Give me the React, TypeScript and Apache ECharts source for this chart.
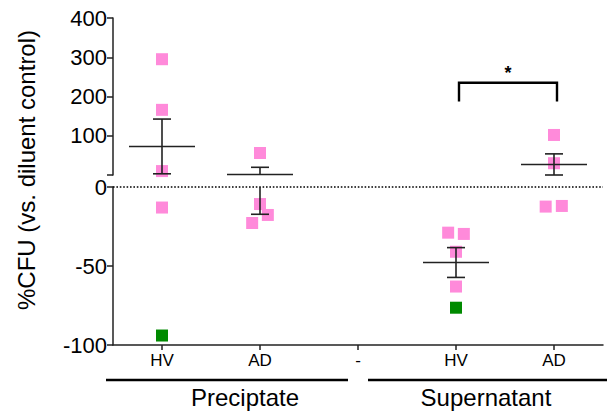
import React, { useEffect, useRef } from "react";
import * as echarts from "echarts";

// ---------- data ----------
const categories = ["HV", "AD", "-", "HV", "AD"];
const groupNames = ["Preciptate", "Supernatant"];
const yTitle = "%CFU (vs. diluent control)";

// per-sample values at each x position (index matches categories)
const pinkValues: number[][] = [
  [295, 166, 10, -13],
  [56, -10.8, -17.7, -22.8],
  [],
  [-28.9, -29.7, -41, -63],
  [102, 30, -12.4, -12],
];
// horizontal jitter of each sample, in category units
const pinkJitter: number[][] = [
  [0, 0, 0, 0],
  [0, 0, 0.08, -0.08],
  [],
  [-0.08, 0.08, 0, 0],
  [0, 0, -0.085, 0.08],
];
const greenValues: number[][] = [[-94], [], [], [-76.4], []];

const upperTicks = [0, 100, 200, 300, 400];
const lowerTicks = [-100, -50, 0];
const significance = [{ from: 3, to: 4, label: "*" }];

// ---------- styles ----------
const FONT = "'Liberation Sans', Arial, Helvetica, sans-serif";
const PINK = "#FF8ADA";
const GREEN = "#008A00";
const INK = "#222222";

function stats(vals: number[]) {
  const n = vals.length;
  const mean = vals.reduce((a, b) => a + b, 0) / n;
  const sd = Math.sqrt(vals.reduce((a, b) => a + (b - mean) * (b - mean), 0) / (n - 1));
  const sem = sd / Math.sqrt(n);
  return { mean, lo: mean - sem, hi: mean + sem };
}

export default function App() {
  const ref = useRef<HTMLDivElement>(null);

  useEffect(() => {
    if (!ref.current) return;
    const chart = echarts.init(ref.current, undefined, { renderer: "svg" });

    const upperMax = upperTicks[upperTicks.length - 1];
    const lowerMin = lowerTicks[0];
    const TOL = -2; // values just below zero still drawn at the upper segment's base

    const pinkUp: number[][] = [];
    const pinkLow: number[][] = [];
    const greenUp: number[][] = [];
    const greenLow: number[][] = [];
    const errData: number[][] = [];
    categories.forEach((_, i) => {
      pinkValues[i].forEach((v, k) => {
        const pt = [i + (pinkJitter[i][k] || 0), v];
        (v >= 0 ? pinkUp : pinkLow).push(pt);
      });
      greenValues[i].forEach((v) => {
        (v >= 0 ? greenUp : greenLow).push([i, v]);
      });
      const all = [...pinkValues[i], ...greenValues[i]];
      if (all.length > 1) {
        const s = stats(all);
        errData.push([i, s.mean, s.lo, s.hi]);
      }
    });

    const seg = (x1: number, y1: number, x2: number, y2: number, w = 1.6) => ({
      type: "line",
      shape: { x1, y1, x2, y2 },
      style: { stroke: INK, lineWidth: w },
    });

    const makeErr = (upper: boolean) => (params: any, api: any) => {
      const x = api.value(0);
      const mean = api.value(1);
      const lo = api.value(2);
      const hi = api.value(3);
      const inSeg = (v: number) => (upper ? v >= TOL : v < TOL);
      const clamp = (v: number) =>
        upper ? Math.max(0, Math.min(upperMax, v)) : Math.max(lowerMin, Math.min(0, v));
      const P = (v: number) => api.coord([x, clamp(v)]);
      const children: any[] = [];
      const MW = 33;
      const CW = 9;
      if (inSeg(mean)) {
        const p = P(mean);
        children.push(seg(p[0] - MW, p[1], p[0] + MW, p[1]));
      }
      const vertical = upper ? hi >= TOL : lo < TOL;
      if (vertical) {
        const a = P(lo);
        const b = P(hi);
        children.push(seg(a[0], a[1], b[0], b[1]));
      }
      [lo, hi].forEach((v) => {
        if (inSeg(v)) {
          const p = P(v);
          children.push(seg(p[0] - CW, p[1], p[0] + CW, p[1]));
        }
      });
      return { type: "group", children };
    };

    const BR_TOP = 235;
    const BR_LEG = 187;
    const bracketRender = (params: any, api: any) => {
      const a = api.coord([api.value(0), BR_LEG]);
      const b = api.coord([api.value(0), BR_TOP]);
      const c = api.coord([api.value(1), BR_TOP]);
      const d = api.coord([api.value(1), BR_LEG]);
      const label = significance[params.dataIndex].label;
      return {
        type: "group",
        children: [
          {
            type: "polyline",
            shape: { points: [[a[0] + 3, a[1]], [b[0] + 3, b[1]], [c[0] + 3, c[1]], [d[0] + 3, d[1]]] },
            style: { stroke: "#000", lineWidth: 2.4, fill: "none" },
          },
          {
            type: "text",
            x: (b[0] + c[0]) / 2 + 3,
            y: b[1] - 10,
            style: {
              text: label,
              fontSize: 18,
              fontWeight: "bold",
              fontFamily: FONT,
              fill: "#000",
              align: "center",
              verticalAlign: "middle",
            },
          },
        ],
      };
    };

    const yAxisCommon = {
      type: "value",
      axisLine: { show: true, onZero: false, lineStyle: { color: INK, width: 1.5 } },
      axisTick: { show: true, length: 6, lineStyle: { color: INK, width: 1.5 } },
      splitLine: { show: false },
      axisLabel: { color: "#000", fontSize: 22, fontFamily: FONT, margin: 6 },
    };

    const square = { symbol: "rect", symbolSize: 12 };

    chart.setOption({
      animation: false,
      grid: [
        { left: 113, right: 4, top: 18, height: 157 },
        { left: 113, right: 4, top: 187, height: 158 },
      ],
      xAxis: [
        { gridIndex: 0, type: "category", data: categories, show: false, axisLine: { onZero: false } },
        {
          gridIndex: 1,
          type: "category",
          data: categories,
          position: "bottom",
          axisLine: { show: true, onZero: false, lineStyle: { color: INK, width: 1.5 } },
          axisTick: { show: true, alignWithLabel: true, length: 5, lineStyle: { color: INK, width: 1.5 } },
          axisLabel: { color: "#000", fontSize: 17, fontFamily: FONT, margin: 7, interval: 0 },
          splitLine: { show: false },
        },
        { gridIndex: 0, type: "value", min: -0.5, max: 4.5, show: false, axisLine: { onZero: false } },
        { gridIndex: 1, type: "value", min: -0.5, max: 4.5, show: false, axisLine: { onZero: false } },
      ],
      yAxis: [
        {
          ...yAxisCommon,
          gridIndex: 0,
          position: "left",
          min: upperTicks[0],
          max: upperMax,
          interval: 100,
          axisLabel: { ...yAxisCommon.axisLabel, formatter: (v: number) => (v === 0 ? "" : String(v)) },
        },
        {
          ...yAxisCommon,
          gridIndex: 1,
          position: "left",
          min: lowerMin,
          max: 0,
          interval: 50,
        },
      ],
      series: [
        {
          type: "scatter",
          xAxisIndex: 2,
          yAxisIndex: 0,
          data: pinkUp,
          itemStyle: { color: PINK, opacity: 1 },
          ...square,
          z: 2,
        },
        {
          type: "scatter",
          xAxisIndex: 3,
          yAxisIndex: 1,
          data: pinkLow,
          itemStyle: { color: PINK, opacity: 1 },
          ...square,
          z: 2,
          markLine: {
            silent: true,
            symbol: "none",
            label: { show: false },
            lineStyle: { color: "#000", width: 1.6, type: [1.6, 1.8] },
            data: [{ yAxis: 0 }],
          },
        },
        {
          type: "scatter",
          xAxisIndex: 2,
          yAxisIndex: 0,
          data: greenUp,
          itemStyle: { color: GREEN, opacity: 1 },
          ...square,
          z: 2,
        },
        {
          type: "scatter",
          xAxisIndex: 3,
          yAxisIndex: 1,
          data: greenLow,
          itemStyle: { color: GREEN, opacity: 1 },
          ...square,
          z: 2,
        },
        {
          type: "custom",
          xAxisIndex: 2,
          yAxisIndex: 0,
          data: errData,
          encode: { x: 0, y: 1 },
          renderItem: makeErr(true),
          silent: true,
          z: 5,
        },
        {
          type: "custom",
          xAxisIndex: 3,
          yAxisIndex: 1,
          data: errData,
          encode: { x: 0, y: 1 },
          renderItem: makeErr(false),
          silent: true,
          z: 5,
        },
        {
          type: "custom",
          xAxisIndex: 2,
          yAxisIndex: 0,
          data: significance.map((s) => [s.from, s.to]),
          encode: { x: [0, 1] },
          renderItem: bracketRender,
          silent: true,
          z: 5,
        },
      ],
      graphic: [
        {
          type: "text",
          x: 26,
          y: 170,
          rotation: Math.PI / 2,
          style: {
            text: yTitle,
            fontSize: 24,
            fontFamily: FONT,
            fill: "#000",
            align: "center",
            verticalAlign: "middle",
          },
        },
        { type: "line", shape: { x1: 106, y1: 380, x2: 348, y2: 380 }, style: { stroke: "#000", lineWidth: 2.6 } },
        { type: "line", shape: { x1: 368, y1: 380, x2: 607, y2: 380 }, style: { stroke: "#000", lineWidth: 2.6 } },
        {
          type: "text",
          x: 245,
          y: 397,
          style: { text: groupNames[0], fontSize: 24, fontFamily: FONT, fill: "#000", align: "center", verticalAlign: "middle" },
        },
        {
          type: "text",
          x: 486,
          y: 397,
          style: { text: groupNames[1], fontSize: 24, fontFamily: FONT, fill: "#000", align: "center", verticalAlign: "middle" },
        },
      ],
    });

    return () => chart.dispose();
  }, []);

  return (
    <div
      ref={ref}
      style={{ position: "fixed", left: 0, top: 0, width: 607, height: 413, background: "#fff" }}
    />
  );
}
